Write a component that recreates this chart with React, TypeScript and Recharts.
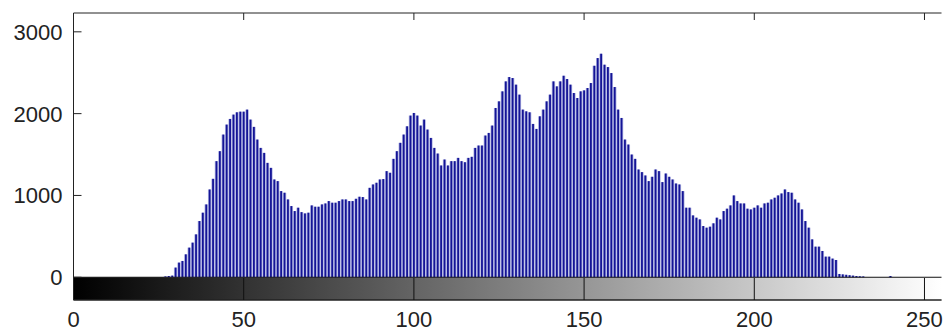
import React from 'react';
import { ComposedChart, Bar, XAxis, YAxis, ReferenceArea, ReferenceLine } from 'recharts';

// Histogram counts for gray levels 0..255
const counts: number[] = [
  0, 0, 0, 0, 0, 0, 0, 0, 0, 0, 0, 0, 0, 0, 0, 0,
  0, 0, 0, 0, 0, 0, 0, 0, 0, 0, 0, 10, 15, 20, 118, 179,
  199, 280, 362, 423, 524, 687, 789, 890, 1073, 1203, 1419, 1541, 1744, 1866, 1935, 1988,
  2016, 2024, 2024, 2049, 1927, 1838, 1683, 1581, 1520, 1398, 1337, 1195, 1175, 1053, 1033, 951,
  870, 809, 850, 796, 780, 789, 878, 862, 862, 890, 902, 931, 911, 911, 931, 951,
  951, 931, 931, 959, 984, 980, 951, 1093, 1134, 1155, 1195, 1200, 1297, 1277, 1447, 1541,
  1643, 1744, 1845, 1976, 2008, 1976, 1854, 1927, 1805, 1703, 1581, 1512, 1366, 1439, 1366, 1419,
  1419, 1459, 1419, 1406, 1459, 1472, 1581, 1610, 1610, 1732, 1764, 1854, 2069, 2150, 2272, 2394,
  2447, 2435, 2354, 2232, 2049, 2028, 2016, 1874, 1813, 1967, 2049, 2150, 2232, 2394, 2333, 2394,
  2463, 2423, 2354, 2252, 2191, 2272, 2284, 2313, 2374, 2585, 2679, 2732, 2598, 2569, 2496, 2325,
  2049, 1947, 1683, 1622, 1500, 1447, 1317, 1285, 1244, 1175, 1228, 1317, 1297, 1163, 1268, 1228,
  1195, 1146, 1134, 1053, 850, 850, 756, 728, 707, 626, 606, 618, 659, 728, 707, 809,
  838, 878, 1000, 931, 902, 902, 838, 829, 850, 878, 850, 902, 911, 951, 972, 1000,
  1024, 1073, 1041, 1033, 951, 911, 829, 687, 606, 463, 374, 374, 321, 252, 252, 228,
  211, 40, 35, 30, 25, 20, 15, 12, 10, 0, 0, 0, 0, 0, 0, 0,
  15, 0, 0, 0, 0, 0, 0, 0, 0, 0, 0, 0, 0, 0, 0, 0,
];

const xTicks = [0, 50, 100, 150, 200, 250];
const yTicks = [0, 1000, 2000, 3000];
const xDomain: [number, number] = [0, 255];
const yDomain: [number, number] = [-278, 3230];
const colorbarBottom = -278;

const data = counts.map((count, bin) => ({ bin, count }));

const FONT = '"Liberation Sans", Arial, Helvetica, sans-serif';

const Stem = (props: any) => {
  const { x, y, width, height } = props;
  if (!height || height <= 0) return null;
  const cx = x + width / 2;
  return (
    <g>
      <rect x={x} y={y} width={width} height={height} fill="#b0b4e2" />
      <rect x={cx - 0.9} y={y} width={1.8} height={height} fill="#141496" />
    </g>
  );
};

const Empty = () => <g />;

const XLabel = (p: any) => (
  <text x={p.x} y={p.y} dy={27} textAnchor="middle" fontSize={22} fill="#222" fontFamily={FONT}>
    {p.payload.value}
  </text>
);

const YLabel = (p: any) => (
  <text x={p.x - 11} y={p.y} dy={8} textAnchor="end" fontSize={22} fill="#222" fontFamily={FONT}>
    {p.payload.value}
  </text>
);

export default function App() {
  return (
    <div style={{ position: 'absolute', left: 0, top: 0, background: '#fff' }}>
      <ComposedChart
        width={943}
        height={333}
        data={data}
        margin={{ top: 13, right: 1.5, bottom: 0, left: 0 }}
      >
        <defs>
          <linearGradient id="grayRamp" x1="0" y1="0" x2="1" y2="0">
            <stop offset="0%" stopColor="#000000" />
            <stop offset="100%" stopColor="#ffffff" />
          </linearGradient>
        </defs>
        <XAxis
          xAxisId="main"
          dataKey="bin"
          type="number"
          domain={xDomain}
          ticks={xTicks}
          allowDataOverflow
          height={33}
          tickSize={0}
          tickMargin={0}
          tickLine={false}
          axisLine={{ stroke: '#222' }}
          tick={XLabel}
        />
        <XAxis
          xAxisId="cb"
          type="number"
          domain={xDomain}
          ticks={xTicks}
          allowDataOverflow
          mirror
          tickSize={22}
          tickLine={{ stroke: '#111' }}
          axisLine={{ stroke: '#222' }}
          tick={Empty}
        />
        <XAxis
          xAxisId="top"
          orientation="top"
          type="number"
          domain={xDomain}
          ticks={xTicks}
          allowDataOverflow
          mirror
          tickSize={7}
          tickLine={{ stroke: '#222' }}
          axisLine={{ stroke: '#222' }}
          tick={Empty}
        />
        <YAxis
          yAxisId="main"
          type="number"
          domain={yDomain}
          ticks={yTicks}
          allowDataOverflow
          width={73.5}
          tickSize={0}
          tickMargin={0}
          tickLine={false}
          axisLine={{ stroke: '#222' }}
          tick={YLabel}
        />
        <YAxis
          yAxisId="lt"
          type="number"
          domain={yDomain}
          ticks={yTicks}
          allowDataOverflow
          mirror
          tickSize={8}
          tickLine={{ stroke: '#222' }}
          axisLine={{ stroke: '#222' }}
          tick={Empty}
        />
        <YAxis
          yAxisId="rt"
          orientation="right"
          type="number"
          domain={yDomain}
          ticks={yTicks}
          allowDataOverflow
          mirror
          width={0}
          tickSize={8}
          tickLine={{ stroke: '#222' }}
          axisLine={{ stroke: '#222' }}
          tick={Empty}
        />
        <ReferenceArea
          xAxisId="main"
          yAxisId="main"
          x1={xDomain[0]}
          x2={xDomain[1]}
          y1={colorbarBottom}
          y2={0}
          fill="url(#grayRamp)"
          fillOpacity={1}
          stroke="none"
          ifOverflow="visible"
        />
        <Bar
          xAxisId="main"
          yAxisId="main"
          dataKey="count"
          barSize={3.4}
          shape={Stem}
          isAnimationActive={false}
        />
        <ReferenceLine xAxisId="main" yAxisId="main" y={0} stroke="#111" strokeWidth={1} />
      </ComposedChart>
    </div>
  );
}
